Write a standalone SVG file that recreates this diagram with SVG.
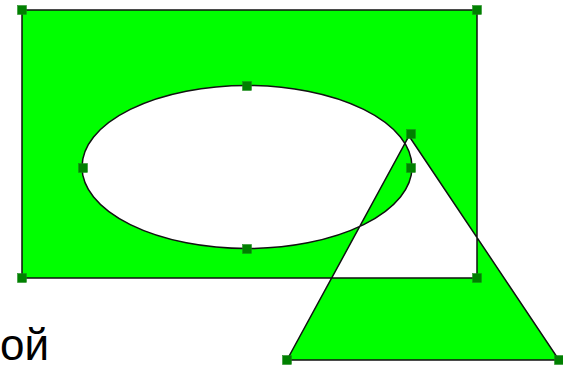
<svg xmlns="http://www.w3.org/2000/svg" width="563" height="365" viewBox="0 0 563 365">
<style>
.shape{fill:#00ff00;fill-rule:evenodd;stroke:#111;stroke-width:1.5;stroke-linejoin:miter}
.h{fill:#008000;stroke:#1a8a1a;stroke-width:0.5}
.t{font-family:"Liberation Sans",Arial,sans-serif;font-size:44px;fill:#000}
</style>
<rect width="563" height="365" fill="#fff"/>
<g id="figure">
<path class="shape" d="M22,10 H477 V278 H22 Z M82,167 A165,81.5 0 1 0 412,167 A165,81.5 0 1 0 82,167 Z M409,136 L559,360 L287,360 Z"/>
</g>
<g id="handles">
<rect class="h" x="17.5" y="5.5" width="9" height="9"/>
<rect class="h" x="472.5" y="5.5" width="9" height="9"/>
<rect class="h" x="17.5" y="273.5" width="9" height="9"/>
<rect class="h" x="472.5" y="273.5" width="9" height="9"/>
<rect class="h" x="78.5" y="163.5" width="9" height="9"/>
<rect class="h" x="242.5" y="81.5" width="9" height="9"/>
<rect class="h" x="406.5" y="163.5" width="9" height="9"/>
<rect class="h" x="242.5" y="244.5" width="9" height="9"/>
<rect class="h" x="406.5" y="129.5" width="9" height="9"/>
<rect class="h" x="282.5" y="355.5" width="9" height="9"/>
<rect class="h" x="554.5" y="355.5" width="9" height="9"/>
</g>
<text class="t" x="0" y="360">ой</text>
</svg>
